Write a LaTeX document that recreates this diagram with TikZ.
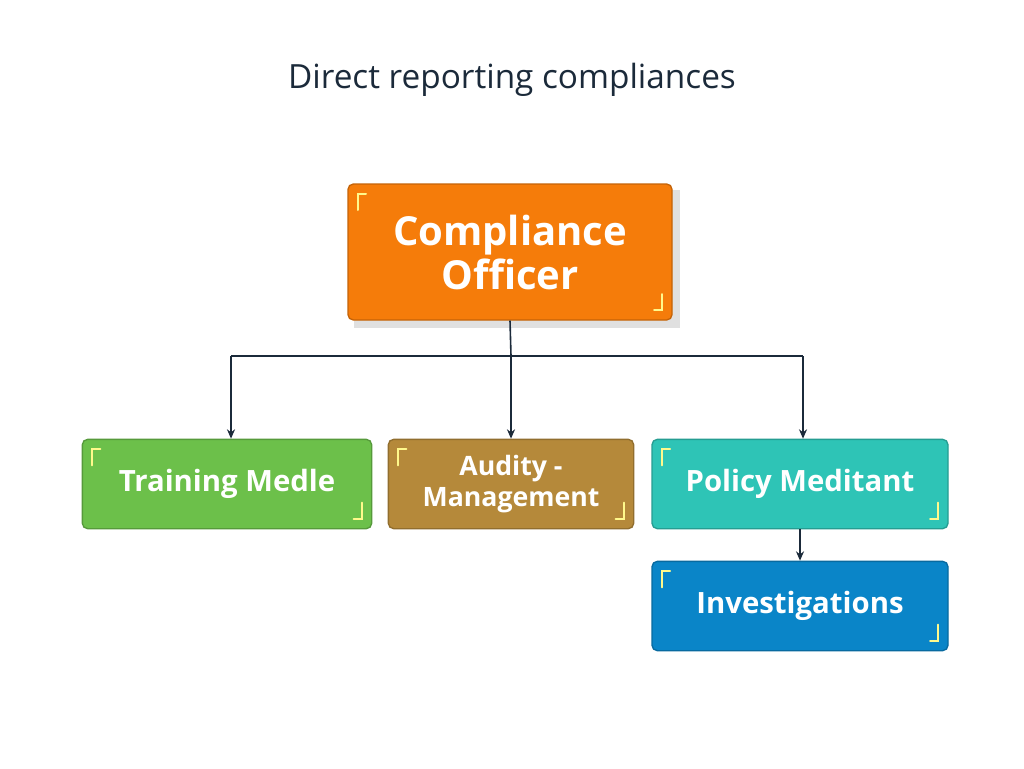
\documentclass[tikz,border=0pt]{standalone}
\usepackage{fontspec}
\setmainfont{Open Sans}
\usetikzlibrary{arrows.meta,positioning}
\definecolor{navy}{HTML}{1B2A3A}
\definecolor{orangebox}{HTML}{F57C0A}
\definecolor{greenbox}{HTML}{6CC04A}
\definecolor{brownbox}{HTML}{B5893A}
\definecolor{tealbox}{HTML}{2EC4B6}
\definecolor{bluebox}{HTML}{0A85C8}
\tikzset{
  box/.style={rectangle, rounded corners=4pt, draw=#1!80!black, line width=1pt,
    fill=#1, text=white, align=center, font=\bfseries\fontsize{22}{24}\selectfont},
  link/.style={draw=navy, line width=1.2pt, -{Stealth[length=7pt,width=6pt]}},
  corner/.style={draw=white!55!yellow, line width=1.5pt, line cap=round}
}
\newcommand{\boxmarks}[1]{%
  \draw[corner] ([xshift=8pt,yshift=-20pt]#1.north west) -- ([xshift=8pt,yshift=-8pt]#1.north west) -- ([xshift=14pt,yshift=-8pt]#1.north west);
  \draw[corner] ([xshift=-8pt,yshift=20pt]#1.south east) -- ([xshift=-8pt,yshift=8pt]#1.south east) -- ([xshift=-14pt,yshift=8pt]#1.south east);}
\begin{document}
\begin{tikzpicture}[x=0.75pt,y=-0.75pt]
\useasboundingbox[fill=white] (0,0) rectangle (1024,768);
\node[font=\fontsize{25}{28}\selectfont, text=navy] (title) at (512,80) {Direct reporting compliances};

% top box
\fill[black!12] (354,190) rectangle (680,328);
\node[box=orangebox, minimum width=243pt, minimum height=102pt,
  font=\fontsize{30}{33}\selectfont\bfseries] (officer) at (510,252) {Compliance\\Officer};
\node[box=greenbox, minimum width=217pt, minimum height=67pt] (training) at (227,484) {Training Medle};
\node[box=brownbox, minimum width=184pt, minimum height=67pt,
  font=\bfseries\fontsize{20}{23}\selectfont] (audit) at (511,484) {Audity -\\Management};
\node[box=tealbox, minimum width=222pt, minimum height=67pt] (policy) at (800,484) {Policy Meditant};
\node[box=bluebox, minimum width=222pt, minimum height=67pt] (invest) at (800,606) {Investigations};
\foreach \n in {officer,training,audit,policy,invest} {\boxmarks{\n}}

\coordinate (bus) at (511,356);
\coordinate (busleft) at (231,356);
\coordinate (busright) at (803,356);
\draw[navy, line width=1.2pt] (officer.south) -- (bus);
\draw[navy, line width=1.2pt] (busleft) -- (busright);
\draw[link] (bus) -- (audit.north);
\draw[link] (busleft) -- (busleft |- training.north);
\draw[link] (busright) -- (busright |- policy.north);
\draw[link] (policy.south) -- (invest.north);
\end{tikzpicture}
\end{document}
